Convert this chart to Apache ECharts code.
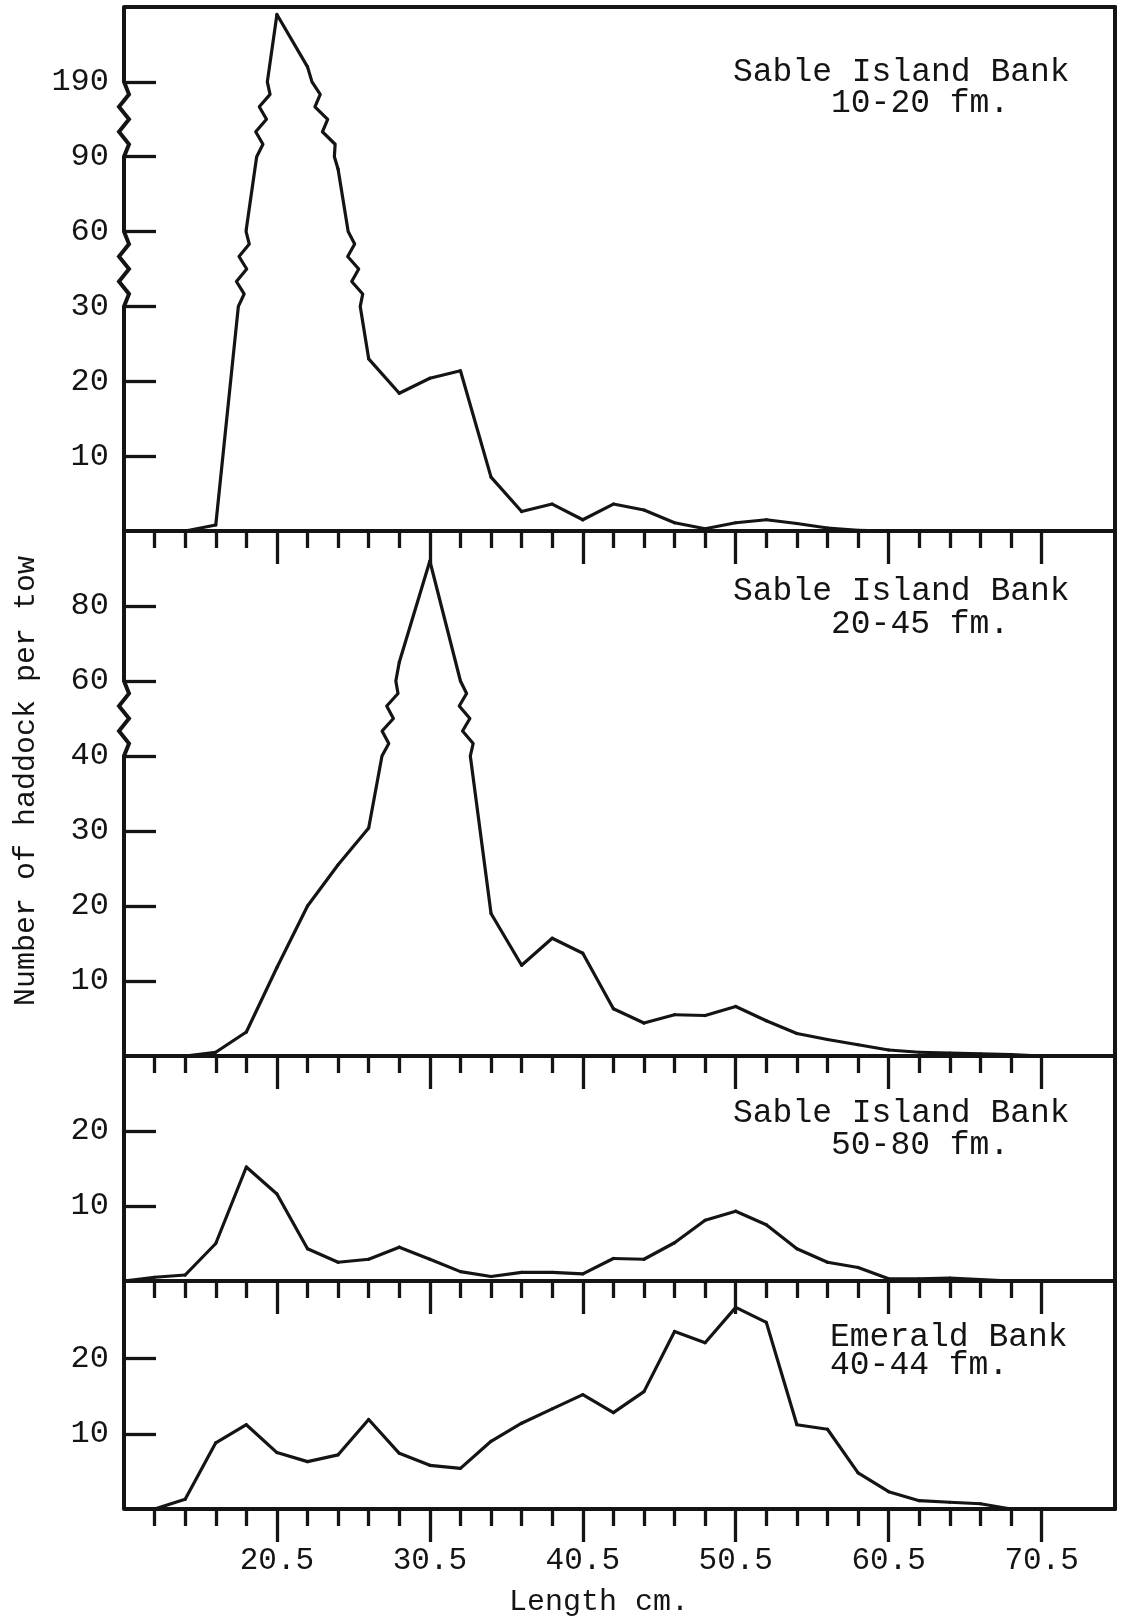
<!DOCTYPE html>
<html>
<head>
<meta charset="utf-8">
<title>Length frequencies of haddock</title>
<script src="https://cdn.jsdelivr.net/npm/echarts@6/dist/echarts.min.js"></script>
<style>
  html, body { margin: 0; padding: 0; background: #ffffff; }
  #chart { width: 1121px; height: 1622px; }
</style>
</head>
<body>
<div id="chart"></div>
<script>
// Length classes (cm), one every 2 cm
const lengths = [10.5, 12.5, 14.5, 16.5, 18.5, 20.5, 22.5, 24.5, 26.5, 28.5, 30.5,
                 32.5, 34.5, 36.5, 38.5, 40.5, 42.5, 44.5, 46.5, 48.5, 50.5,
                 52.5, 54.5, 56.5, 58.5, 60.5, 62.5, 64.5, 66.5, 68.5, 70.5];

// Number of haddock per tow in each length class
const sable10to20 = [null, null, 0, 0.8, 61, 199, 192, 85, 23, 18.4, 20.4,
                     21.4, 7.2, 2.6, 3.6, 1.5, 3.6, 2.8, 1.1, 0.3, 1.1,
                     1.5, 1.0, 0.4, 0.1, 0, null, null, null, null, null];
const sable20to45 = [null, null, 0, 0.5, 3.2, 11.8, 20, 25.5, 30.4, 65, 92,
                     60, 19, 12.1, 15.7, 13.7, 6.3, 4.4, 5.5, 5.4, 6.6,
                     4.7, 3.0, 2.2, 1.5, 0.8, 0.5, 0.4, 0.3, 0.2, 0];
const sable50to80 = [0, 0.5, 0.8, 5.0, 15.2, 11.6, 4.3, 2.5, 2.9, 4.5, 2.9,
                     1.25, 0.6, 1.15, 1.15, 0.95, 3.0, 2.9, 5.1, 8.1, 9.3,
                     7.5, 4.3, 2.5, 1.8, 0.3, 0.3, 0.4, 0.2, 0, null];
const emerald40to44 = [null, 0, 1.3, 8.8, 11.2, 7.5, 6.3, 7.2, 11.9, 7.4, 5.8,
                       5.4, 9.0, 11.4, 13.3, 15.2, 12.8, 15.6, 23.6, 22.1, 26.8,
                       24.8, 11.2, 10.6, 4.8, 2.3, 1.1, 0.9, 0.7, 0, null];

// Length axis ticks
const lengthMajorTicks = [20.5, 30.5, 40.5, 50.5, 60.5, 70.5];
const lengthMinorTicks = [12.5, 14.5, 16.5, 18.5, 22.5, 24.5, 26.5, 28.5, 32.5, 34.5,
                          36.5, 38.5, 42.5, 44.5, 46.5, 48.5, 52.5, 54.5, 56.5, 58.5,
                          62.5, 64.5, 66.5, 68.5];

// Count axes: each labelled step is drawn the same height; ranges listed in the
// breaks are squeezed into one step and drawn with a zig-zag
const stops10to20 = [0, 10, 20, 30, 60, 90, 190, 200];
const ticks10to20 = [10, 20, 30, 60, 90, 190];
const breaks10to20 = [[30, 60], [90, 190]];

const stops20to45 = [0, 10, 20, 30, 40, 60, 80, 100];
const ticks20to45 = [10, 20, 30, 40, 60, 80];
const breaks20to45 = [[40, 60]];

const stops50to80 = [0, 10, 20, 30, 40];
const ticks50to80 = [10, 20];

const stopsEmerald = [0, 10, 20, 30, 40];
const ticksEmerald = [10, 20];

const INK = '#141414';
const FONT = "'Liberation Mono', 'DejaVu Sans Mono', monospace";
const X_MIN = 10.5, X_MAX = 75.3;
const GRID_LEFT = 124, GRID_WIDTH = 991;
const AXIS_W = 4, TICK_W = 3.3, LINE_W = 3.2;

// value -> position on a stepped count axis
function toStep(v, stops) {
  for (let i = 0; i < stops.length - 1; i++) {
    if (v <= stops[i + 1]) return i + (v - stops[i]) / (stops[i + 1] - stops[i]);
  }
  const n = stops.length - 1;
  return n - 1 + (v - stops[n - 1]) / (stops[n] - stops[n - 1]);
}

const panels = [
  { title: 'Sable Island Bank', depth: '10-20 fm.', values: sable10to20,
    stops: stops10to20, ticks: ticks10to20, breaks: breaks10to20,
    top: 7, height: 524, stepMax: 7,
    titleX: [733, 831], titleY: [72, 103] },
  { title: 'Sable Island Bank', depth: '20-45 fm.', values: sable20to45,
    stops: stops20to45, ticks: ticks20to45, breaks: breaks20to45,
    top: 531, height: 525, stepMax: 7,
    titleX: [733, 831], titleY: [591, 624] },
  { title: 'Sable Island Bank', depth: '50-80 fm.', values: sable50to80,
    stops: stops50to80, ticks: ticks50to80, breaks: [],
    top: 1056, height: 225, stepMax: 3,
    titleX: [733, 831], titleY: [1113, 1145] },
  { title: 'Emerald Bank', depth: '40-44 fm.', values: emerald40to44,
    stops: stopsEmerald, ticks: ticksEmerald, breaks: [],
    top: 1281, height: 228, stepMax: 3.03,
    titleX: [830, 830], titleY: [1337, 1365] }
];

// polyline from (x0,d0) to (x1,d1); zig-zag where it crosses a squeezed band
function zigPoints(api, x0, d0, x1, d1, bands, amp) {
  const p0 = api.coord([x0, d0]);
  const p1 = api.coord([x1, d1]);
  const lerp = t => [p0[0] + (p1[0] - p0[0]) * t, p0[1] + (p1[1] - p0[1]) * t];
  const pts = [p0];
  if (d1 !== d0) {
    const spans = [];
    bands.forEach(([a, b]) => {
      const ta = (a - d0) / (d1 - d0), tb = (b - d0) / (d1 - d0);
      const s = Math.max(0, Math.min(ta, tb)), e = Math.min(1, Math.max(ta, tb));
      if (e - s > 1e-6) spans.push([s, e]);
    });
    spans.sort((u, v) => u[0] - v[0]);
    spans.forEach(([s, e]) => {
      const a = lerp(s), b = lerp(e);
      pts.push(a);
      const n = Math.max(2, 2 * Math.round(Math.abs(b[1] - a[1]) / 22));
      for (let k = 1; k < n; k++) {
        const q = lerp(s + (e - s) * k / n);
        pts.push([q[0] + (k % 2 ? amp : -amp), q[1]]);
      }
      pts.push(b);
    });
  }
  pts.push(p1);
  return pts;
}

const grid = [], xAxis = [], yAxis = [], series = [], graphic = [];

panels.forEach((p, i) => {
  grid.push({ left: GRID_LEFT, width: GRID_WIDTH, top: p.top, height: p.height, containLabel: false });

  const bands = p.breaks.map(([a, b]) => [toStep(a, p.stops), toStep(b, p.stops)]);
  const tickSteps = p.ticks.map(v => toStep(v, p.stops));
  const labelOf = s => {
    const k = tickSteps.findIndex(t => Math.abs(t - s) < 1e-6);
    return k >= 0 ? String(p.ticks[k]) : '';
  };

  const xMain = xAxis.length;
  xAxis.push({
    gridIndex: i, type: 'value', min: X_MIN, max: X_MAX, position: 'bottom',
    axisLine: { show: true, onZero: false, lineStyle: { color: INK, width: AXIS_W } },
    axisTick: { show: true, customValues: lengthMajorTicks, length: 33, lineStyle: { color: INK, width: TICK_W } },
    axisLabel: {
      show: i === panels.length - 1, customValues: lengthMajorTicks,
      formatter: v => v.toFixed(1), margin: 36,
      fontFamily: FONT, fontSize: 31, color: INK
    },
    splitLine: { show: false }
  });
  xAxis.push({
    gridIndex: i, type: 'value', min: X_MIN, max: X_MAX, position: 'bottom',
    axisLine: { show: false, onZero: false },
    axisTick: { show: true, customValues: lengthMinorTicks, length: 17, lineStyle: { color: INK, width: TICK_W } },
    axisLabel: { show: false },
    splitLine: { show: false }
  });
  if (i === 0) {
    xAxis.push({
      gridIndex: i, type: 'value', min: X_MIN, max: X_MAX, position: 'top',
      axisLine: { show: true, onZero: false, lineStyle: { color: INK, width: AXIS_W } },
      axisTick: { show: false }, axisLabel: { show: false }, splitLine: { show: false }
    });
  }

  const yMain = yAxis.length;
  yAxis.push({
    gridIndex: i, type: 'value', min: 0, max: p.stepMax, position: 'left',
    axisLine: { show: false, onZero: false },
    axisTick: { show: true, inside: true, customValues: tickSteps, length: 32, lineStyle: { color: INK, width: TICK_W } },
    axisLabel: {
      customValues: tickSteps, formatter: labelOf, margin: 15,
      fontFamily: FONT, fontSize: 32, color: INK
    },
    splitLine: { show: false }
  });
  yAxis.push({
    gridIndex: i, type: 'value', min: 0, max: p.stepMax, position: 'right',
    axisLine: { show: true, onZero: false, lineStyle: { color: INK, width: AXIS_W } },
    axisTick: { show: false }, axisLabel: { show: false }, splitLine: { show: false }
  });

  // data line, segment by segment
  const segments = [];
  let prev = -1;
  p.values.forEach((v, k) => {
    if (v === null) return;
    if (prev >= 0) {
      segments.push([lengths[prev], toStep(p.values[prev], p.stops), lengths[k], toStep(v, p.stops)]);
    }
    prev = k;
  });
  series.push({
    type: 'custom', name: p.title + ' ' + p.depth,
    coordinateSystem: 'cartesian2d', xAxisIndex: xMain, yAxisIndex: yMain,
    data: segments, encode: { x: [0, 2], y: [1, 3] },
    clip: false, silent: true, animation: false,
    renderItem: (params, api) => ({
      type: 'polyline',
      shape: { points: zigPoints(api, api.value(0), api.value(1), api.value(2), api.value(3), bands, 4.5) },
      style: { stroke: INK, lineWidth: LINE_W, fill: null, lineJoin: 'round', lineCap: 'round' }
    })
  });

  // count axis spine with its break marks
  series.push({
    type: 'custom', coordinateSystem: 'cartesian2d', xAxisIndex: xMain, yAxisIndex: yMain,
    data: [[X_MIN, 0, X_MIN, p.stepMax]], encode: { x: [0, 2], y: [1, 3] },
    clip: false, silent: true, animation: false,
    renderItem: (params, api) => ({
      type: 'polyline',
      shape: { points: zigPoints(api, api.value(0), api.value(1), api.value(2), api.value(3), bands, 5) },
      style: { stroke: INK, lineWidth: AXIS_W, fill: null, lineJoin: 'miter', lineCap: 'butt' }
    })
  });

  graphic.push({
    type: 'text', x: p.titleX[0], y: p.titleY[0], silent: true,
    style: { text: p.title, font: '33px ' + FONT, fill: INK, textVerticalAlign: 'middle' }
  });
  graphic.push({
    type: 'text', x: p.titleX[1], y: p.titleY[1], silent: true,
    style: { text: p.depth, font: '33px ' + FONT, fill: INK, textVerticalAlign: 'middle' }
  });
});

graphic.push({
  type: 'text', x: 26, y: 781, rotation: Math.PI / 2, silent: true,
  style: { text: 'Number of haddock per tow', font: '30px ' + FONT, fill: INK,
           textAlign: 'center', textVerticalAlign: 'middle' }
});
graphic.push({
  type: 'text', x: 599, y: 1602, silent: true,
  style: { text: 'Length cm.', font: '30px ' + FONT, fill: INK,
           textAlign: 'center', textVerticalAlign: 'middle' }
});

const chart = echarts.init(document.getElementById('chart'), null, { renderer: 'canvas' });
chart.setOption({
  backgroundColor: '#ffffff',
  animation: false,
  grid, xAxis, yAxis, series, graphic
});
</script>
</body>
</html>
